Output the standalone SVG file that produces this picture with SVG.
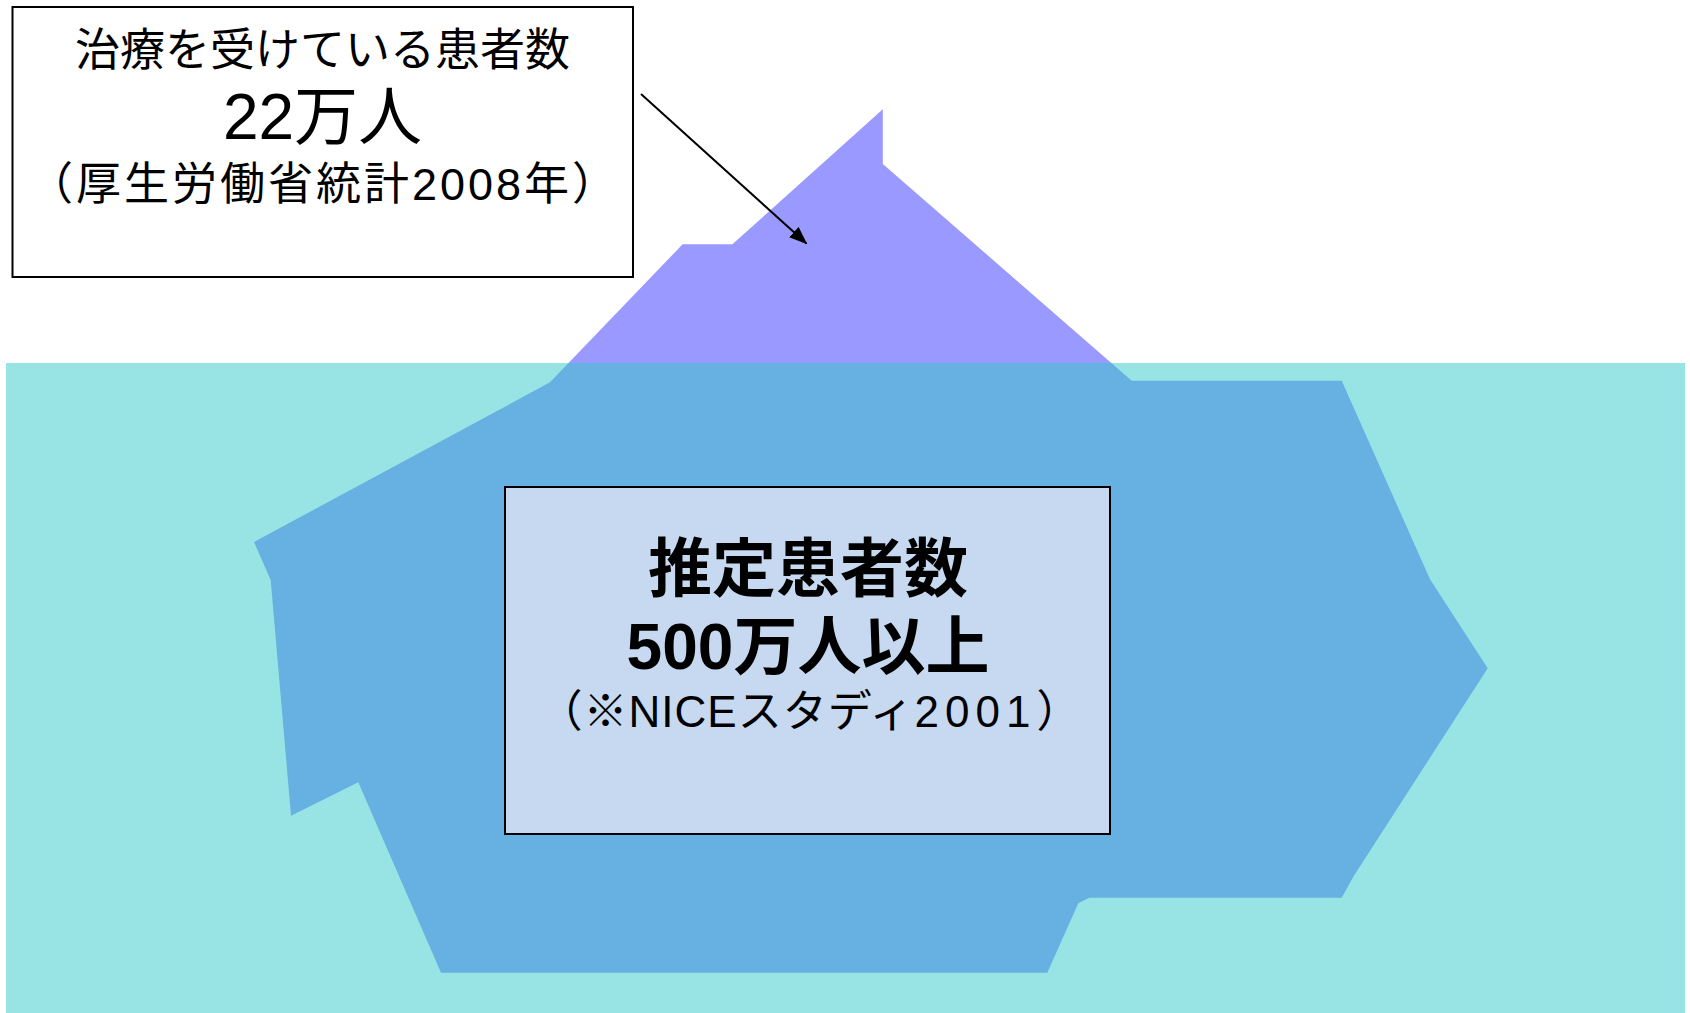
<svg xmlns="http://www.w3.org/2000/svg" width="1690" height="1013" viewBox="0 0 1690 1013">
  <style>
    .label { font-family: "Liberation Sans", "Noto Sans CJK JP", sans-serif; fill: #000; text-anchor: middle; }
    .bold { font-weight: bold; }
    .frame { stroke: #000; stroke-width: 2; }
  </style>
  <defs>
    <marker id="arrowhead" markerUnits="userSpaceOnUse" markerWidth="18" markerHeight="14" refX="17" refY="7" orient="auto">
      <path d="M0,0 L18,7 L0,14 Z" fill="#000"/>
    </marker>
    <clipPath id="underwater">
      <rect x="6" y="363" width="1679" height="650"/>
    </clipPath>
    <polygon id="berg-shape" points="882.8,109.3 882.8,164 1131.7,380.7 1341.7,380.7 1430,579.3 1487.7,668.3 1353.3,876.7 1341.7,897.7 1089.3,897.7 1078.3,903.3 1047.3,972.7 441,972.7 358.3,782.3 291,815.7 270.7,580 254,542 550,382.3 682.6,244.3 732.4,244.3"/>
  </defs>

  <rect width="1690" height="1013" fill="#fff"/>

  <!-- iceberg tip above the water line -->
  <g id="iceberg-top">
    <use href="#berg-shape" fill="#9999FF"/>
  </g>

  <!-- sea -->
  <g id="sea">
    <rect x="6" y="363" width="1679" height="650" fill="#98E4E4"/>
  </g>

  <!-- submerged part of the iceberg -->
  <g id="iceberg-body">
    <use href="#berg-shape" fill="#66B0E2" clip-path="url(#underwater)"/>
  </g>

  <!-- treated patients -->
  <g id="treated-box">
    <rect class="frame" x="12.5" y="7" width="620.5" height="270" fill="#fff"/>
    <text class="label" x="322.5" y="66" font-size="45">治療を受けている患者数</text>
    <text class="label" x="322.5" y="138.5" font-size="64">22万人</text>
    <text class="label" x="324" y="200" font-size="45" letter-spacing="3">（厚生労働省統計2008年）</text>
  </g>

  <!-- estimated patients -->
  <g id="estimate-box">
    <rect class="frame" x="505" y="487" width="605" height="347" fill="#C6D9F0"/>
    <text class="label bold" x="808" y="591" font-size="64">推定患者数</text>
    <text class="label bold" x="808" y="669" font-size="64">500万人以上</text>
    <text class="label" x="810" y="727" font-size="44" letter-spacing="1">（※NICEスタディ<tspan letter-spacing="6">2001</tspan>）</text>
  </g>

  <g id="connectors">
    <path d="M641,94 L806.5,243.5" stroke="#000" stroke-width="2" fill="none" marker-end="url(#arrowhead)"/>
  </g>
</svg>
